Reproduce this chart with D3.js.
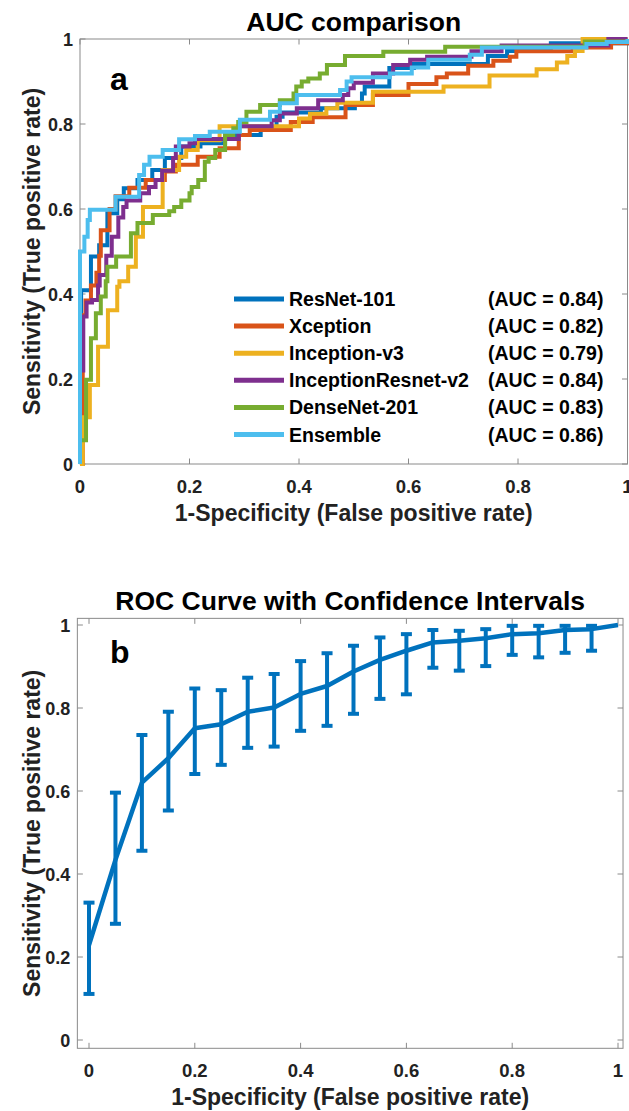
<!DOCTYPE html>
<html>
<head>
<meta charset="utf-8">
<script src="https://cdn.jsdelivr.net/npm/d3@7"></script>
<style>
  body { margin: 0; background: #fff; }
  svg text { font-family: "Liberation Sans", Arial, sans-serif; font-weight: bold; fill: #000; }
</style>
</head>
<body>
<script>
"use strict";
// ---- panel a: ROC corner points [fpr, tpr] for each model ----
var modelNames = ["ResNet-101", "Xception", "Inception-v3", "InceptionResnet-v2", "DenseNet-201", "Ensemble"];
var aucValues = [0.84, 0.82, 0.79, 0.84, 0.83, 0.86];

var rocResNet = [[0,0],[0.002,0.409],[0.02,0.488],[0.035,0.515],[0.05,0.59],[0.068,0.623],[0.08,0.649],
  [0.105,0.668],[0.132,0.692],[0.155,0.72],[0.185,0.747],[0.22,0.755],[0.265,0.774],[0.33,0.79],
  [0.359,0.817],[0.37,0.827],[0.44,0.837],[0.502,0.846],[0.515,0.872],[0.52,0.888],[0.565,0.932],
  [0.61,0.941],[0.745,0.96],[0.78,0.972],[0.86,0.99],[1,1]];
var rocXception = [[0,0],[0.005,0.35],[0.01,0.385],[0.02,0.42],[0.03,0.45],[0.035,0.49],[0.038,0.55],
  [0.054,0.6],[0.065,0.63],[0.09,0.65],[0.12,0.668],[0.155,0.688],[0.175,0.704],[0.215,0.723],
  [0.255,0.743],[0.29,0.774],[0.31,0.786],[0.385,0.805],[0.425,0.816],[0.485,0.845],[0.535,0.868],
  [0.6,0.894],[0.651,0.91],[0.67,0.919],[0.709,0.937],[0.755,0.949],[0.785,0.958],[0.797,0.971],
  [0.9,0.98],[0.97,0.99],[1,1]];
var rocInception = [[0,0],[0.005,0.11],[0.018,0.186],[0.033,0.276],[0.051,0.362],[0.068,0.417],
  [0.072,0.43],[0.088,0.464],[0.102,0.535],[0.115,0.605],[0.151,0.692],[0.181,0.723],[0.194,0.739],
  [0.215,0.762],[0.255,0.795],[0.4,0.813],[0.42,0.824],[0.45,0.837],[0.47,0.85],[0.535,0.876],
  [0.664,0.888],[0.748,0.914],[0.834,0.929],[0.871,0.945],[0.89,0.96],[0.904,0.972],[0.918,1],[1,1]];
var rocIncResNet = [[0,0],[0,0.22],[0.006,0.347],[0.012,0.38],[0.022,0.386],[0.033,0.42],[0.036,0.445],
  [0.048,0.49],[0.058,0.535],[0.07,0.58],[0.079,0.605],[0.085,0.62],[0.11,0.637],[0.126,0.652],
  [0.138,0.668],[0.15,0.69],[0.17,0.72],[0.175,0.747],[0.2,0.755],[0.21,0.765],[0.29,0.795],
  [0.35,0.809],[0.365,0.825],[0.396,0.837],[0.435,0.856],[0.48,0.868],[0.49,0.884],[0.5,0.897],
  [0.535,0.919],[0.572,0.939],[0.603,0.951],[0.634,0.958],[0.715,0.971],[0.77,0.985],[0.965,1],[1,1]];
var rocDenseNet = [[0,0],[0,0.056],[0.011,0.198],[0.02,0.296],[0.029,0.355],[0.038,0.394],[0.047,0.43],
  [0.05,0.464],[0.066,0.488],[0.093,0.543],[0.105,0.567],[0.133,0.586],[0.163,0.595],[0.172,0.605],
  [0.185,0.62],[0.2,0.637],[0.204,0.652],[0.216,0.668],[0.228,0.711],[0.235,0.72],[0.247,0.739],
  [0.265,0.774],[0.28,0.79],[0.289,0.805],[0.304,0.829],[0.329,0.845],[0.365,0.856],[0.39,0.872],
  [0.395,0.888],[0.405,0.9],[0.417,0.907],[0.438,0.919],[0.451,0.939],[0.484,0.96],[0.554,0.97],
  [0.667,0.982],[0.922,0.994],[1,1]];
var rocEnsemble = [[0,0],[0,0.5],[0.008,0.535],[0.014,0.574],[0.018,0.598],[0.065,0.629],[0.108,0.68],
  [0.117,0.704],[0.127,0.723],[0.151,0.739],[0.181,0.764],[0.21,0.772],[0.237,0.782],[0.292,0.81],
  [0.347,0.829],[0.365,0.849],[0.396,0.868],[0.475,0.88],[0.487,0.9],[0.496,0.91],[0.566,0.919],
  [0.606,0.933],[0.636,0.951],[0.712,0.963],[0.734,0.98],[0.925,0.988],[0.962,0.993],[1,1]];

// ---- panel b: mean ROC with confidence intervals ----
var ciFpr   = [0,0.05,0.1,0.15,0.2,0.25,0.3,0.35,0.4,0.45,0.5,0.55,0.6,0.65,0.7,0.75,0.8,0.85,0.9,0.95,1];
var ciTpr   = [0.229,0.434,0.62,0.679,0.751,0.761,0.791,0.801,0.834,0.853,0.888,0.916,0.938,0.958,0.962,0.968,0.978,0.98,0.988,0.99,1];
var ciLower = [0.111,0.28,0.456,0.553,0.641,0.663,0.704,0.707,0.745,0.757,0.786,0.822,0.833,0.897,0.89,0.901,0.928,0.922,0.933,0.938,1];
var ciUpper = [0.331,0.596,0.735,0.791,0.847,0.843,0.873,0.882,0.913,0.932,0.95,0.97,0.978,0.988,0.986,0.99,0.998,0.998,0.998,0.998,1];

var tickValues = [0, 0.2, 0.4, 0.6, 0.8, 1];

var palette = ["#0072BD", "#D95319", "#EDB120", "#7E2F8E", "#77AC30", "#4DBEEE"];
var axisColor = "#8a8a8a";

var svg = d3.select("body").append("svg")
    .attr("width", 629)
    .attr("height", 1111);

// draws box, inward ticks on all sides, tick labels and titles
function drawFrame(x, y, xLim, yLim, title, panelLetter, letterPos) {
    var left = x(xLim[0]), right = x(xLim[1]), top = y(yLim[1]), bottom = y(yLim[0]);
    var g = svg.append("g");
    var tick = 5.5;
    tickValues.forEach(function (v) {
        g.append("line").attr("x1", x(v)).attr("x2", x(v)).attr("y1", bottom).attr("y2", bottom - tick);
        g.append("line").attr("x1", x(v)).attr("x2", x(v)).attr("y1", top).attr("y2", top + tick);
        g.append("line").attr("y1", y(v)).attr("y2", y(v)).attr("x1", left).attr("x2", left + tick);
        g.append("line").attr("y1", y(v)).attr("y2", y(v)).attr("x1", right).attr("x2", right - tick);
        g.append("text")
            .attr("x", x(v)).attr("y", bottom + 29)
            .attr("text-anchor", "middle")
            .style("font-size", "18.5px").style("fill", "#222")
            .text(d3.format("~g")(v));
        g.append("text")
            .attr("x", left - 7).attr("y", y(v) + 6.6)
            .attr("text-anchor", "end")
            .style("font-size", "18px").style("fill", "#222")
            .text(d3.format("~g")(v));
    });
    g.selectAll("line").attr("stroke", axisColor).attr("stroke-width", 1);
    g.append("rect")
        .attr("x", left).attr("y", top)
        .attr("width", right - left).attr("height", bottom - top)
        .attr("fill", "none").attr("stroke", axisColor).attr("stroke-width", 1);

    svg.append("text")
        .attr("x", (left + right) / 2).attr("y", top - 8)
        .attr("text-anchor", "middle")
        .style("font-size", "26.5px")
        .text(title);
    svg.append("text")
        .attr("x", (left + right) / 2).attr("y", bottom + 57)
        .attr("text-anchor", "middle")
        .style("font-size", "23px").style("fill", "#222")
        .text("1-Specificity (False positive rate)");
    svg.append("text")
        .attr("transform", "translate(40," + ((top + bottom) / 2) + ") rotate(-90)")
        .attr("text-anchor", "middle")
        .style("font-size", "23px").style("fill", "#222")
        .text("Sensitivity (True positive rate)");
    svg.append("text")
        .attr("x", letterPos[0]).attr("y", letterPos[1])
        .style("font-size", "32px")
        .text(panelLetter);
}

// ---------- panel a ----------
var xA = d3.scaleLinear().domain([0, 1]).range([80, 627.5]);
var yA = d3.scaleLinear().domain([0, 1]).range([464, 39]);
drawFrame(xA, yA, [0, 1], [0, 1], "AUC comparison", "a", [110, 90]);

var rocLine = d3.line()
    .x(function (d) { return xA(d[0]); })
    .y(function (d) { return yA(d[1]); })
    .curve(d3.curveStepAfter);

var rocCurves = [rocResNet, rocXception, rocInception, rocIncResNet, rocDenseNet, rocEnsemble];
rocCurves.forEach(function (pts, i) {
    svg.append("path")
        .attr("d", rocLine(pts))
        .attr("fill", "none")
        .attr("stroke", palette[i])
        .attr("stroke-width", 4);
});

// legend (no box)
modelNames.forEach(function (name, i) {
    var ly = 299 + i * 27.1;
    svg.append("line")
        .attr("x1", 234).attr("x2", 284).attr("y1", ly).attr("y2", ly)
        .attr("stroke", palette[i]).attr("stroke-width", 5);
    svg.append("text")
        .attr("x", 289).attr("y", ly + 7)
        .style("font-size", "19.5px")
        .text(name);
    svg.append("text")
        .attr("x", 488).attr("y", ly + 7)
        .style("font-size", "19.5px")
        .text("(AUC = " + aucValues[i].toFixed(2) + ")");
});

// ---------- panel b ----------
var xB = d3.scaleLinear().domain([0, 1]).range([89, 618]);
var yB = d3.scaleLinear().domain([0, 1]).range([1040, 625]);
drawFrame(xB, yB, [-0.022, 1.0095], [-0.02, 1.016], "ROC Curve with Confidence Intervals", "b", [110, 663]);

var blue = palette[0];
var meanLine = d3.line()
    .x(function (d, i) { return xB(ciFpr[i]); })
    .y(function (d) { return yB(d); });

svg.append("path")
    .attr("d", meanLine(ciTpr))
    .attr("fill", "none")
    .attr("stroke", blue)
    .attr("stroke-width", 4.5)
    .attr("stroke-linejoin", "round");

var bars = svg.append("g")
    .attr("stroke", blue)
    .attr("stroke-width", 4);
ciFpr.forEach(function (f, i) {
    if (ciUpper[i] - ciLower[i] <= 0) return;
    var cx = xB(f);
    bars.append("line").attr("x1", cx).attr("x2", cx)
        .attr("y1", yB(ciLower[i])).attr("y2", yB(ciUpper[i]));
    bars.append("line").attr("x1", cx - 5.5).attr("x2", cx + 5.5)
        .attr("y1", yB(ciLower[i])).attr("y2", yB(ciLower[i]));
    bars.append("line").attr("x1", cx - 5.5).attr("x2", cx + 5.5)
        .attr("y1", yB(ciUpper[i])).attr("y2", yB(ciUpper[i]));
});
</script>
</body>
</html>
